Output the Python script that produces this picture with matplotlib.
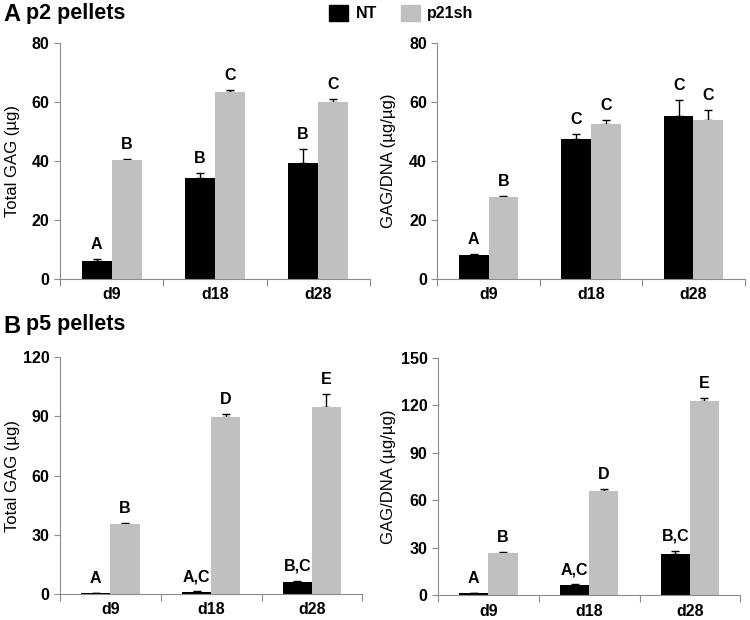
import matplotlib.pyplot as plt
import numpy as np

plt.rcParams['font.family'] = ['Liberation Sans', 'DejaVu Sans']

days = ['d9', 'd18', 'd28']

# panel A (p2 pellets)
a_gag_nt = [6.0, 34.3, 39.3]
a_gag_nt_err = [0.7, 1.5, 4.8]
a_gag_sh = [40.3, 63.5, 59.8]
a_gag_sh_err = [0.3, 0.5, 1.3]
a_gag_nt_lab = ['A', 'B', 'B']
a_gag_sh_lab = ['B', 'C', 'C']

a_dna_nt = [8.1, 47.5, 55.3]
a_dna_nt_err = [0.3, 1.7, 5.3]
a_dna_sh = [27.8, 52.5, 54.0]
a_dna_sh_err = [0.3, 1.3, 3.3]
a_dna_nt_lab = ['A', 'C', 'C']
a_dna_sh_lab = ['B', 'C', 'C']

# panel B (p5 pellets)
b_gag_nt = [0.3, 1.0, 6.2]
b_gag_nt_err = [0.2, 0.4, 0.5]
b_gag_sh = [35.3, 89.7, 94.5]
b_gag_sh_err = [0.8, 1.3, 7.0]
b_gag_nt_lab = ['A', 'A,C', 'B,C']
b_gag_sh_lab = ['B', 'D', 'E']

b_dna_nt = [1.2, 6.3, 26.3]
b_dna_nt_err = [0.5, 0.5, 1.8]
b_dna_sh = [26.8, 65.8, 122.7]
b_dna_sh_err = [0.5, 1.2, 1.8]
b_dna_nt_lab = ['A', 'A,C', 'B,C']
b_dna_sh_lab = ['B', 'D', 'E']

NT_COLOR = 'black'
SH_COLOR = '#c0c0c0'
AX_COLOR = '#8c8c8c'

FIG_W = 750
fig = plt.figure(figsize=(7.5, 6.2), dpi=100)


def panel(rect, nt, nt_err, sh, sh_err, nt_lab, sh_lab, ymax, ystep, ylabel, label_px):
    ax = fig.add_axes(rect)
    x = np.arange(len(days))
    w = 0.29
    # error bars sit under the bars so only the upper whisker shows
    ax.errorbar(x - w / 2, nt, yerr=[np.zeros(3), nt_err], fmt='none',
                ecolor='black', elinewidth=1, capsize=3, capthick=1, zorder=1)
    ax.errorbar(x + w / 2, sh, yerr=[np.zeros(3), sh_err], fmt='none',
                ecolor='black', elinewidth=1, capsize=3, capthick=1, zorder=1)
    ax.bar(x - w / 2, nt, w, color=NT_COLOR, zorder=2)
    ax.bar(x + w / 2, sh, w, color=SH_COLOR, zorder=2)
    for i in range(len(days)):
        ax.annotate(nt_lab[i], (x[i] - w / 2, nt[i] + nt_err[i]), xytext=(0, 5),
                    textcoords='offset points', ha='center', va='bottom',
                    fontsize=11.5, fontweight='bold')
        ax.annotate(sh_lab[i], (x[i] + w / 2, sh[i] + sh_err[i]), xytext=(0, 5),
                    textcoords='offset points', ha='center', va='bottom',
                    fontsize=11.5, fontweight='bold')
    ax.set_xlim(-0.5, 2.5)
    ax.set_ylim(0, ymax)
    ax.set_yticks(np.arange(0, ymax + 1, ystep))
    ax.set_xticks([-0.5, 0.5, 1.5, 2.5])
    ax.set_xticklabels([])
    ax.set_xticks(x, minor=True)
    ax.set_xticklabels(days, minor=True, fontsize=11.5, fontweight='bold')
    ax.tick_params(axis='x', which='minor', length=0, pad=6)
    ax.tick_params(axis='x', which='major', length=5, color=AX_COLOR, direction='out')
    ax.tick_params(axis='y', length=4, color=AX_COLOR, labelsize=11.5)
    for t in ax.get_yticklabels():
        t.set_fontweight('bold')
    for s in ['top', 'right']:
        ax.spines[s].set_visible(False)
    for s in ['left', 'bottom']:
        ax.spines[s].set_color(AX_COLOR)
    ax.set_ylabel(ylabel, fontsize=12, va='center')
    ax.yaxis.set_label_coords((label_px - rect[0] * FIG_W) / (rect[2] * FIG_W), 0.5)
    return ax


panel([0.08, 0.55, 0.413, 0.381], a_gag_nt, a_gag_nt_err, a_gag_sh, a_gag_sh_err,
      a_gag_nt_lab, a_gag_sh_lab, 80, 20, 'Total GAG (µg)', 13)
panel([0.583, 0.55, 0.41, 0.381], a_dna_nt, a_dna_nt_err, a_dna_sh, a_dna_sh_err,
      a_dna_nt_lab, a_dna_sh_lab, 80, 20, 'GAG/DNA (µg/µg)', 389)
panel([0.08, 0.042, 0.403, 0.382], b_gag_nt, b_gag_nt_err, b_gag_sh, b_gag_sh_err,
      b_gag_nt_lab, b_gag_sh_lab, 120, 30, 'Total GAG (µg)', 13)
panel([0.584, 0.040, 0.403, 0.383], b_dna_nt, b_dna_nt_err, b_dna_sh, b_dna_sh_err,
      b_dna_nt_lab, b_dna_sh_lab, 150, 30, 'GAG/DNA (µg/µg)', 389)

# panel headings
fig.text(0.004, 0.976, 'A', fontsize=17, fontweight='bold', va='center')
fig.text(0.035, 0.979, 'p2 pellets', fontsize=15.5, fontweight='bold', va='center')
fig.text(0.004, 0.473, 'B', fontsize=17, fontweight='bold', va='center')
fig.text(0.035, 0.476, 'p5 pellets', fontsize=15.5, fontweight='bold', va='center')

# legend
handles = [plt.Rectangle((0, 0), 1, 1, color=NT_COLOR),
           plt.Rectangle((0, 0), 1, 1, color=SH_COLOR)]
fig.legend(handles, ['NT', 'p21sh'], loc='center', bbox_to_anchor=(0.535, 0.979),
           ncol=2, frameon=False, prop={'weight': 'bold', 'size': 11.5},
           handlelength=1.2, handleheight=1.2, handletextpad=0.45,
           columnspacing=1.5)

fig.savefig('out.png', dpi=100)
